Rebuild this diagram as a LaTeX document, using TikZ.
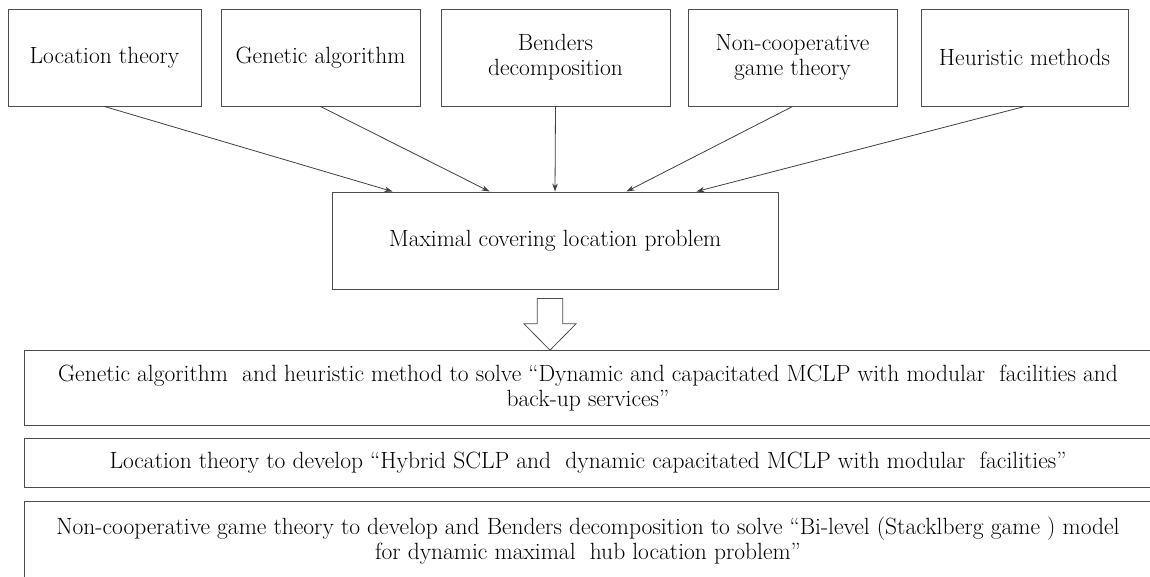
\documentclass[tikz,border=0pt]{standalone}
\usetikzlibrary{arrows.meta,calc}
\begin{document}
\begin{tikzpicture}[x=1pt,y=-1pt,
  box/.style={draw=black!70, line width=1pt, align=center, inner sep=0pt, font=\fontsize{23.5}{25}\selectfont},
  topbox/.style={box, minimum height=97pt},
  wide/.style={box, minimum width=1128pt},
  link/.style={draw=black!75, line width=0.8pt, -{Stealth[length=8pt,width=5.5pt]}},
  blockarrow/.style={draw=black!70, line width=0.8pt, fill=white},
]
\useasboundingbox (0,0) rectangle (1150,576);
\fill[white] (0,0) rectangle (1150,576);

\node[topbox, minimum width=193pt] (b1) at (104.5,57.5) {Location theory};
\node[topbox, minimum width=199pt] (b2) at (320.5,57.5) {Genetic algorithm};
\node[topbox, minimum width=229pt] (b3) at (555.5,57.5) {Benders\\decomposition};
\node[topbox, minimum width=209pt] (b4) at (792.5,57.5) {Non-cooperative\\game theory};
\node[topbox, minimum width=207pt] (b5) at (1024.5,57.5) {Heuristic methods};

\node[box, minimum width=446pt, minimum height=97pt] (c) at (555,240.5) {Maximal covering location problem};

\draw[link] (b1.south) -- ($(c.north west)+(61,0)$);
\draw[link] (b2.south) -- ($(c.north west)+(158,0)$);
\draw[link] (b3.south) -- ($(c.north west)+(223.5,0)$);
\draw[link] (b4.south) -- ($(c.north west)+(295,0)$);
\draw[link] (b5.south) -- ($(c.north west)+(365,0)$);

\node[wide, minimum height=74.6pt] (r1) at (588,388)
  {Genetic algorithm\ \ and heuristic method to solve “Dynamic and capacitated MCLP with modular\ \ facilities and\\ back-up services”};
\node[wide, minimum height=49.4pt] (r2) at (588,463)
  {Location theory to develop “Hybrid SCLP and\ \ dynamic capacitated MCLP with modular\ \ facilities”};
\node[wide, minimum height=80pt] (r3) at (588,541)
  {Non-cooperative game theory to develop and Benders decomposition to solve “Bi-level (Stacklberg game ) model\\ for dynamic maximal\ \ hub location problem”};

\coordinate (ab) at ($(c.south)+(-5,9)$);
\draw[blockarrow] (ab) ++(-12.7,0) -- ++(25.4,0) -- ++(0,25.3) -- ++(13.3,0)
  -- ($(r1.north)+(-38,0)$) -- ($(ab)+(-26,25.3)$) -- ($(ab)+(-12.7,25.3)$) -- cycle;
\end{tikzpicture}
\end{document}
